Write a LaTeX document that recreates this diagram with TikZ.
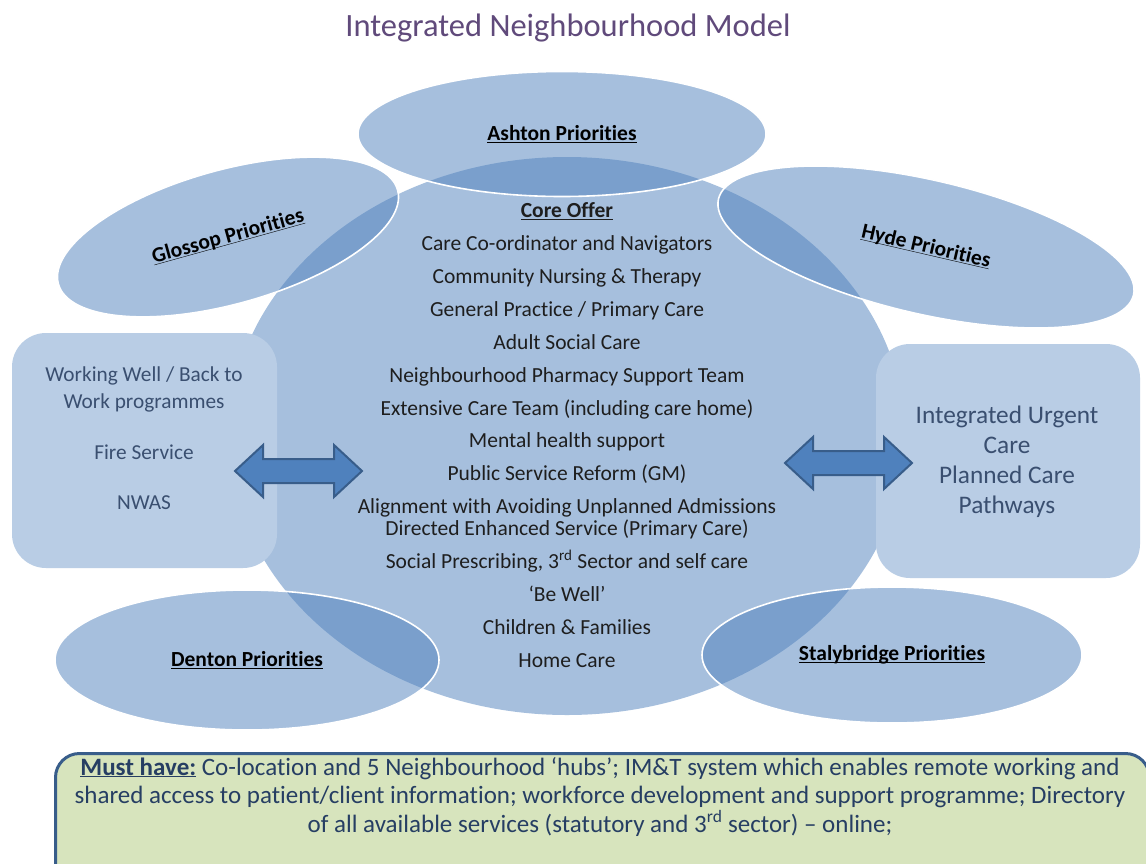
\documentclass[tikz,border=0pt]{standalone}
\usepackage{fontspec}
\setmainfont{Carlito}[Ligatures=NoCommon]
\usetikzlibrary{shapes.geometric}

\definecolor{accent}{HTML}{4F81BD}
\definecolor{accentdark}{HTML}{385D8A}
\definecolor{boxblue}{HTML}{B9CDE5}
\definecolor{boxtext}{HTML}{3A4F70}
\definecolor{titlepurple}{HTML}{604A7B}
\definecolor{greenbox}{HTML}{D7E4BD}
\definecolor{navytext}{HTML}{263E63}
\definecolor{coretext}{HTML}{1E1E1E}

% underline drawn just under the baseline, ignoring descenders,
% while the box keeps the natural height and depth of its text
\newcommand{\baseul}[1]{\vphantom{#1}\underline{\smash{#1}}}

\begin{document}
\begin{tikzpicture}[x=1pt,y=-1pt,
  coreshape/.style={ellipse, inner sep=0pt, fill=accent, fill opacity=0.5, draw=none},
  priority/.style={ellipse, inner sep=0pt, fill=accent, fill opacity=0.5, text opacity=1,
    draw=white, line width=1.6pt, text=black, font=\fontsize{21.5}{24}\selectfont\bfseries},
  sidebox/.style={rectangle, rounded corners=34pt, fill=boxblue, draw=none, inner sep=0pt},
  sidetext/.style={align=center, text=boxtext, inner sep=0pt},
  dblarrow/.pic={
    \draw[fill=accent, draw=accentdark, line width=2pt, line join=miter]
      (-63.5,0) -- (-35.5,-26) -- (-35.5,-12) -- (35.5,-12) -- (35.5,-26) -- (63.5,0)
      -- (35.5,26) -- (35.5,12) -- (-35.5,12) -- (-35.5,26) -- cycle;
  }
]
\clip (0,0) rectangle (1146,863);
\fill[white] (0,0) rectangle (1146,863);

% heading
\node (title) [text=titlepurple, font=\fontsize{32.5}{36}\selectfont] at (568,28) {Integrated Neighbourhood Model};

% central core-offer disc
\node (core) [coreshape, minimum width=676pt, minimum height=558pt] at (567,436) {};

% neighbourhood priority ellipses
\node (ashton) [priority, minimum width=408pt, minimum height=125pt] at (562,134)
  {\baseul{Ashton Priorities}};
\node (glossop) [priority, minimum width=352pt, minimum height=134pt, rotate=15.5] at (228,237)
  {\baseul{Glossop Priorities}};
\node (hyde) [priority, minimum width=426pt, minimum height=134pt, rotate=-13] at (926,247)
  {\baseul{Hyde Priorities}};
\node (denton) [priority, minimum width=384pt, minimum height=140pt] at (247,660)
  {\baseul{Denton Priorities}};
\node (staly) [priority, minimum width=380pt, minimum height=136pt] at (892,655)
  {\baseul{Stalybridge Priorities}};

% side service boxes
\node (leftbox) [sidebox, minimum width=265pt, minimum height=235pt] at (144.5,450.5) {};
\node (lefttext) [sidetext, font=\fontsize{21.3}{27}\selectfont] at (144,438)
  {Working Well / Back to\\Work programmes\\[24pt]Fire Service\\[23pt]NWAS};
\node (rightbox) [sidebox, minimum width=264pt, minimum height=234pt] at (1008,461) {};
\node (righttext) [sidetext, font=\fontsize{25.3}{30}\selectfont] at (1007,462)
  {Integrated Urgent\\Care\\Planned Care\\Pathways};

% two-way links between the core offer and the side services
\pic at (298.5,471) {dblarrow};
\pic at (848.5,463) {dblarrow};

% core offer list
\node (corelist) [align=center, text=coretext, inner sep=0pt, font=\fontsize{21.5}{32.9}\selectfont] at (567,435)
  {\baseul{\textbf{Core Offer}}\\
   Care Co-ordinator and Navigators\\
   Community Nursing \& Therapy\\
   General Practice / Primary Care\\
   Adult Social Care\\
   Neighbourhood Pharmacy Support Team\\
   Extensive Care Team (including care home)\\
   Mental health support\\
   Public Service Reform (GM)\\
   Alignment with Avoiding Unplanned Admissions\\[-11pt]
   Directed Enhanced Service (Primary Care)\\
   Social Prescribing, 3\textsuperscript{rd} Sector and self care\\
   ‘Be Well’\\
   Children \& Families\\
   Home Care};

% must-have banner
\node (musthave) [rectangle, rounded corners=24pt, draw=accentdark, line width=3pt, fill=greenbox,
  minimum width=1094pt, minimum height=140pt, anchor=north west, inner sep=0pt] at (54,752) {};
\node (musttext) [align=center, text=navytext, inner sep=0pt, font=\fontsize{25}{28.5}\selectfont] at (600,796.5)
  {\baseul{\textbf{Must have:}} Co-location and 5 Neighbourhood ‘hubs’; IM\&T system which enables remote working and\\
   shared access to patient/client information; workforce development and support programme; Directory\\
   of all available services (statutory and 3\textsuperscript{rd} sector) – online;};
\end{tikzpicture}
\end{document}
